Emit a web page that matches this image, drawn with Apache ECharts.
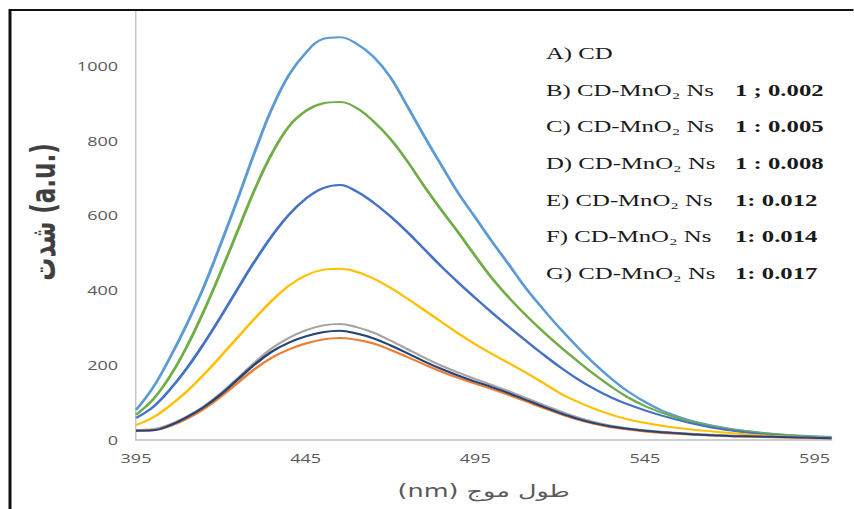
<!DOCTYPE html>
<html>
<head>
<meta charset="utf-8">
<script src="https://cdn.jsdelivr.net/npm/echarts@6/dist/echarts.min.js"></script>
<style>
  html, body { margin: 0; padding: 0; background: #ffffff; overflow: hidden; }
  /* The figure is laid out on a narrower canvas and widened horizontally. */
  #chart {
    width: 569.333px; height: 509px;
    transform: scaleX(1.5); transform-origin: 0 0;
  }
</style>
</head>
<body>
<div id="chart"></div>
<script>
// Emission wavelength (nm), every 5 nm
const wavelengths = [395,400,405,410,415,420,425,430,435,440,445,450,455,460,465,470,475,480,485,490,
  495,500,505,510,515,520,525,530,535,540,545,550,555,560,565,570,575,580,585,590,595,600];

// Fluorescence intensity (a.u.) for each sample
const seriesA = [80,140,220,310,410,525,645,770,885,975,1035,1072,1077,1060,1025,970,892,812,735,660,
  595,530,468,405,350,298,250,205,165,130,102,79,62,48,38,30,24,19,15,12,10,8];
const seriesB = [67,108,170,250,345,450,560,670,765,838,880,900,904,888,852,805,745,678,615,555,
  492,432,380,333,290,250,212,176,143,114,91,73,58,46,37,29,23,18,14,11,9,7];
const seriesC = [59,88,135,192,258,330,405,478,545,602,645,673,682,665,635,598,556,510,464,421,
  380,340,302,265,229,195,164,137,114,95,79,65,53,42,33,26,20,15,12,9,7,6];
const seriesD = [40,60,92,130,175,224,275,325,372,412,440,455,458,450,432,407,378,347,316,285,
  256,230,205,180,153,125,103,84,68,55,46,38,32,27,23,19,15,12,10,8,7,5];
const seriesE = [27,29,42,63,90,125,165,207,245,273,293,306,310,302,287,266,243,220,199,180,
  163,147,130,112,94,77,61,48,38,31,26,22,19,16,14,12,11,10,9,8,7,6];
const seriesF = [25,26,39,61,88,122,162,202,236,260,277,288,292,285,272,253,232,210,190,172,
  156,141,125,107,89,72,57,45,36,30,25,21,18,15,13,11,10,9,8,7,6,5];
const seriesG = [25,26,37,57,83,116,153,190,220,242,258,269,273,268,258,241,222,202,183,166,
  151,136,120,103,86,70,55,43,34,28,23,19,16,14,12,10,9,8,7,6,5,4];

// Sample labels and mass ratios shown in the key
const legendNames = ['A) CD','B) CD-MnO\u2082 Ns','C) CD-MnO\u2082 Ns','D) CD-MnO\u2082 Ns',
  'E) CD-MnO\u2082 Ns','F) CD-MnO\u2082 Ns','G) CD-MnO\u2082 Ns'];
const legendRatios = ['','1 ; 0.002','1 : 0.005','1 : 0.008','1: 0.012','1: 0.014','1: 0.017'];

const xTitle = '\u202B\u0637\u0648\u0644 \u0645\u0648\u062C (nm)\u202C';
const yTitle = '\u0634\u062F\u062A (a.u.)';

const S = 1.5;                 // horizontal widening applied by CSS
const px = v => v / S;         // page x -> canvas x

const lines = [
  { name: 'A', data: seriesA, color: '#5B9BD5' },
  { name: 'B', data: seriesB, color: '#70AD47' },
  { name: 'C', data: seriesC, color: '#4472C4' },
  { name: 'D', data: seriesD, color: '#FFC000' },
  { name: 'E', data: seriesE, color: '#A5A5A5' },
  { name: 'G', data: seriesG, color: '#ED7D31' },
  { name: 'F', data: seriesF, color: '#264478' }
];

const keyTop = 45, keyStep = 36.7;
const graphic = [];
legendNames.forEach((t, i) => {
  graphic.push({
    type: 'text', left: px(546), top: keyTop + i * keyStep, z: 100,
    style: { text: t, font: '16.5px "Liberation Serif", "Times New Roman", serif',
             fill: '#1a1a1a', textVerticalAlign: 'middle' }
  });
  if (legendRatios[i]) {
    graphic.push({
      type: 'text', left: px(735), top: keyTop + i * keyStep, z: 100,
      style: { text: legendRatios[i], font: 'bold 16.5px "Liberation Serif", "Times New Roman", serif',
               fill: '#1a1a1a', textVerticalAlign: 'middle' }
    });
  }
});
// frame along the top and left edges
graphic.push({
  type: 'rect', z: 200, silent: true,
  shape: { x: px(10), y: 10, width: 800, height: 800 },
  style: { fill: 'none', stroke: '#111111', lineWidth: 2 }
});

const chart = echarts.init(document.getElementById('chart'), null, { renderer: 'svg' });
chart.setOption({
  animation: false,
  backgroundColor: '#ffffff',
  grid: { left: px(136), right: px(854 - 832), top: 10, bottom: 69, containLabel: false },
  xAxis: {
    type: 'category', data: wavelengths.map(String), boundaryGap: false,
    name: xTitle, nameLocation: 'middle', nameGap: 43,
    nameTextStyle: { fontFamily: '"DejaVu Sans", sans-serif', fontSize: 17, color: '#595959' },
    axisLine: { show: true, lineStyle: { color: '#bfbfbf', width: 1.5 } },
    axisTick: { show: false },
    axisLabel: { interval: 9, margin: 12, fontFamily: '"Open Sans", sans-serif', fontSize: 12, color: '#595959' },
    splitLine: { show: false }
  },
  yAxis: {
    type: 'value', min: 0, max: 1150, interval: 200,
    name: yTitle, nameLocation: 'middle', nameGap: 41, nameRotate: 90,
    nameTextStyle: { fontFamily: '"DejaVu Sans", sans-serif', fontSize: 23, fontWeight: 'bold',
                     color: '#404040', padding: [0, 0, 0, 26] },
    axisLine: { show: true, lineStyle: { color: '#c8c8c8', width: 1 } },
    axisTick: { show: false },
    axisLabel: { showMaxLabel: false, margin: 12, formatter: v => String(v),
                 fontFamily: '"Open Sans", sans-serif', fontSize: 12, color: '#595959' },
    splitLine: { show: false }
  },
  series: lines.map(l => ({
    type: 'line', name: l.name, data: l.data, showSymbol: false, smooth: 0.4,
    lineStyle: { color: l.color, width: 2 }, itemStyle: { color: l.color }
  })),
  graphic: graphic
});
</script>
</body>
</html>
